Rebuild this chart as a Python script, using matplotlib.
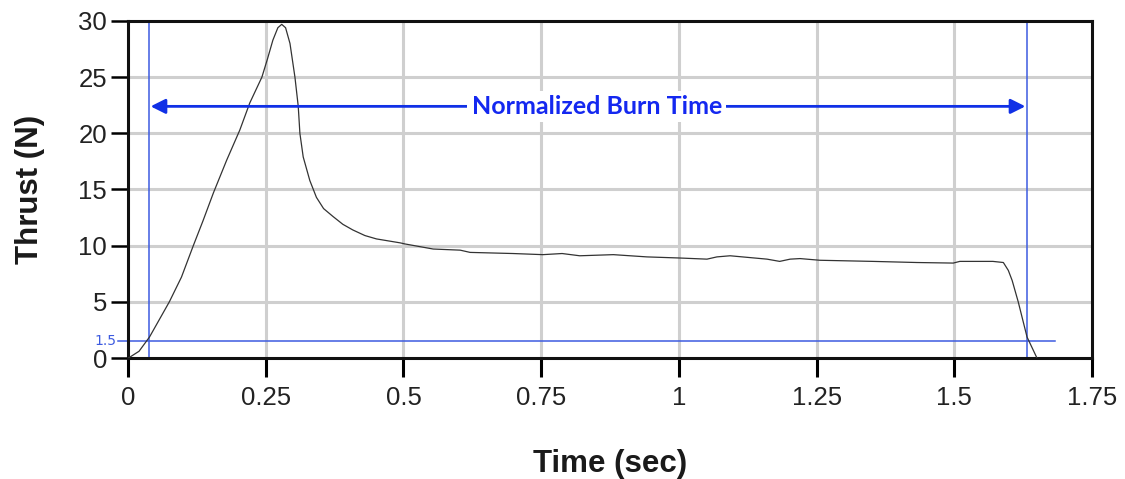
import numpy as np
import matplotlib.pyplot as plt

plt.rcParams['font.family'] = ['Liberation Sans', 'DejaVu Sans']

# thrust curve
time = [0.0, 0.004, 0.02, 0.039, 0.075, 0.097, 0.1185, 0.136, 0.155, 0.179, 0.203,
        0.221, 0.243, 0.253, 0.263, 0.272, 0.279, 0.286, 0.294, 0.303, 0.309, 0.312,
        0.318, 0.330, 0.342, 0.355, 0.372, 0.390, 0.408, 0.430, 0.451, 0.494, 0.503,
        0.554, 0.603, 0.621, 0.699, 0.753, 0.788, 0.820, 0.881, 0.942, 1.002, 1.051,
        1.069, 1.093, 1.160, 1.183, 1.202, 1.220, 1.256, 1.352, 1.432, 1.498, 1.510,
        1.570, 1.589, 1.598, 1.605, 1.616, 1.632, 1.650]
thrust = [0.0, 0.1, 0.6, 1.87, 5.0, 7.2, 10.0, 12.2, 14.7, 17.6, 20.3,
          22.7, 25.0, 26.6, 28.3, 29.4, 29.7, 29.4, 28.0, 25.0, 22.4, 20.0,
          17.9, 15.8, 14.3, 13.3, 12.6, 11.9, 11.4, 10.9, 10.6, 10.25, 10.15,
          9.7, 9.6, 9.4, 9.3, 9.2, 9.3, 9.1, 9.2, 9.0, 8.9, 8.8,
          9.0, 9.1, 8.8, 8.6, 8.8, 8.85, 8.7, 8.6, 8.5, 8.45, 8.6,
          8.6, 8.5, 7.8, 6.9, 5.0, 1.87, 0.0]

x_ticks = [0, 0.25, 0.5, 0.75, 1.0, 1.25, 1.5, 1.75]
x_labels = ['0', '0.25', '0.5', '0.75', '1', '1.25', '1.5', '1.75']
y_ticks = [0, 5, 10, 15, 20, 25, 30]

burn_start = 0.038
burn_end = 1.632
threshold = 1.5
arrow_y = 22.4
label_x = 0.851

fig = plt.figure(figsize=(11.25, 4.79), dpi=100)
ax = fig.add_axes([0.1138, 0.2526, 0.8569, 0.7036])

ax.set_xlim(0, 1.75)
ax.set_ylim(0, 30)

# grid
for xt in x_ticks[1:-1]:
    ax.axvline(xt, color='#cfcfcf', lw=2.2, zorder=0)
for yt in y_ticks[1:-1]:
    ax.axhline(yt, color='#cfcfcf', lw=2.2, zorder=0)

ax.plot(time, thrust, color='#333333', lw=0.9, zorder=3)

blue = '#3d5be0'
ax.axvline(burn_start, color=blue, lw=1.1, zorder=2)
ax.axvline(burn_end, color=blue, lw=1.1, zorder=2)
ax.plot([-0.018, 1.683], [threshold, threshold], color=blue, lw=1.1,
        clip_on=False, zorder=2)
ax.text(-0.021, threshold, '1.5', color=blue, fontsize=10, ha='right',
        va='center', family='DejaVu Sans')

arrow_color = '#1030e6'
ax.annotate('', xy=(burn_start + 0.003, arrow_y), xytext=(label_x, arrow_y),
            arrowprops=dict(arrowstyle='-|>', color=arrow_color, lw=2,
                            mutation_scale=22, shrinkA=0, shrinkB=0), zorder=4)
ax.annotate('', xy=(burn_end - 0.003, arrow_y), xytext=(label_x, arrow_y),
            arrowprops=dict(arrowstyle='-|>', color=arrow_color, lw=2,
                            mutation_scale=22, shrinkA=0, shrinkB=0), zorder=4)
ax.text(label_x, arrow_y, 'Normalized Burn Time', color='#1428f0',
        fontsize=18, fontweight='bold', family='Lato', ha='center', va='center',
        bbox=dict(facecolor='white', edgecolor='none', pad=3), zorder=5)

ax.set_xticks(x_ticks)
ax.set_xticklabels(x_labels)
ax.set_yticks(y_ticks)
ax.tick_params(axis='x', length=14, width=2.2, pad=6, labelsize=18.5,
               direction='out', labelcolor='#222222')
ax.tick_params(axis='y', length=12, width=1.8, pad=3, labelsize=18.5,
               direction='out', labelcolor='#222222')

for sp in ax.spines.values():
    sp.set_linewidth(2.2)
    sp.set_color('#111111')

ax.set_xlabel('Time (sec)', fontsize=22.5, fontweight='bold',
              labelpad=28, color='#1a1a1a')
ax.set_ylabel('Thrust (N)', fontsize=22.5, fontweight='bold',
              labelpad=24, color='#1a1a1a')

fig.savefig('out.png', dpi=100)
